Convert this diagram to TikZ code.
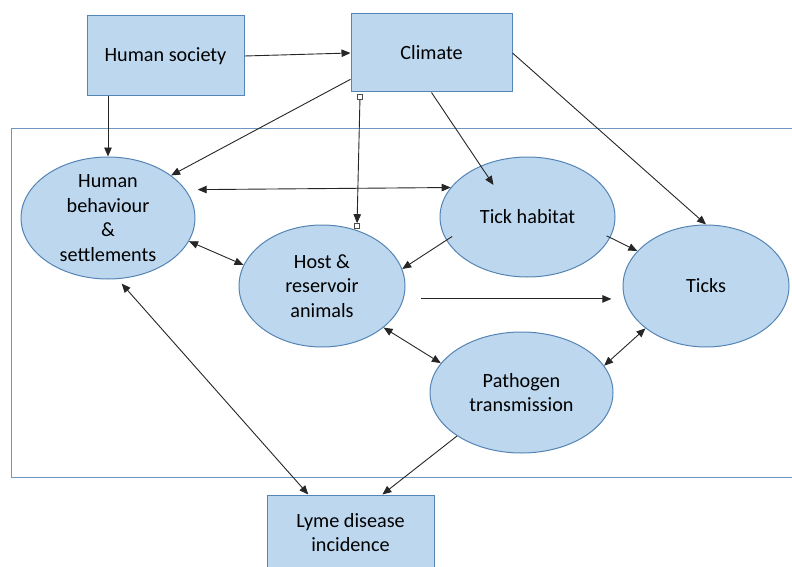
\documentclass[tikz,border=0pt]{standalone}
\usepackage{fontspec}
\setmainfont{Carlito}
\usepackage{xcolor}
\usepackage{tikz}
\usetikzlibrary{shapes.geometric}
\usetikzlibrary{arrows.meta,calc}

\definecolor{boxfill}{HTML}{BDD7EE}
\definecolor{boxline}{HTML}{5585B5}

\begin{document}
\begin{tikzpicture}[x=1pt, y=-1pt,
    box/.style={fill=boxfill, draw=boxline, line width=1pt, rectangle,
      align=center, inner sep=0pt},
    blob/.style={fill=boxfill, draw=boxline, line width=1pt, ellipse,
      align=center, inner sep=0pt},
    link/.style={line width=0.9pt, draw=black!85},
    handle/.style={draw=black!70, fill=white, rectangle, minimum size=5pt,
      inner sep=0pt, line width=0.6pt},
    >={Triangle[length=9pt,width=7.5pt]},
    font=\fontsize{20.2}{24.5}\selectfont]

\useasboundingbox (0,0) rectangle (792,567);

 % the system frame
 \draw[boxline!85, line width=0.8pt] (11,128) rectangle (800,477);

 \node[box, minimum width=157pt, minimum height=80pt] (society) at (165.5,56) {Human society};

 \node[box, minimum width=161pt, minimum height=78pt] (climate) at (431.5,53) {Climate};

 \node[box, minimum width=167pt, minimum height=75pt] (lyme) at (350.5,532.5) {Lyme disease\\incidence};

 \node[blob, minimum width=174pt, minimum height=122pt, inner ysep=-6pt] (behav) at (108,218)
    {Human\\behaviour\\\&\\settlements};

 \node[blob, minimum width=166pt, minimum height=122pt] (host) at (322,286)
    {Host \&\\reservoir\\animals};

 \node[blob, minimum width=175pt, minimum height=120pt] (habitat) at (527.5,217) {Tick habitat};

 \node[blob, minimum width=166pt, minimum height=122pt] (ticks) at (706,286) {Ticks};

 \node[blob, minimum width=183pt, minimum height=121pt] (patho) at (521.5,392.5)
    {Pathogen\\transmission};

 \node[handle] (h1) at (360,97) {};
 \node[handle] (h2) at (357,226) {};
 \coordinate (hab in) at ($(habitat.center)+(-34,-32)$);

 % from outside the frame
 \draw[link, ->] (society.east) -- (climate.west);
 \draw[link, ->] (society.south -| behav.north) -- (behav.north);
 \draw[link, ->] (climate.198.5) -- (behav.34.7);
 \draw[link, ->] (h1) -- (h2);
 \draw[link, ->] (climate.south) -- (hab in);
 \draw[link, ->] (climate.east) -- (ticks.north);

 % inside the frame
 \draw[link, <->, shorten <=12pt] (behav.20.8) -- (habitat.159.5);
 \draw[link, <->] (behav.-16.7) -- (host.165);
 \draw[link, ->, shorten <=-7pt] (habitat.196.7) -- (host.12.8);
 \draw[link, ->, shorten <=-4pt] (habitat.-14.4) -- (ticks.153.8);
 \draw[link, ->, shorten <=17pt, shorten >=13pt] (host.-9.1) -- (ticks.189.1);
 \draw[link, <->] (host.-34.9) -- (patho.160.7);
 \draw[link, <->] (patho.18.2) -- (ticks.215.8);

 % to the outcome
 \draw[link, ->] (patho.214.6) -- (lyme.50.9);
 \draw[link, <->, shorten <=6pt] (behav.-81.5) -- (lyme.138.3);

\end{tikzpicture}
\end{document}
